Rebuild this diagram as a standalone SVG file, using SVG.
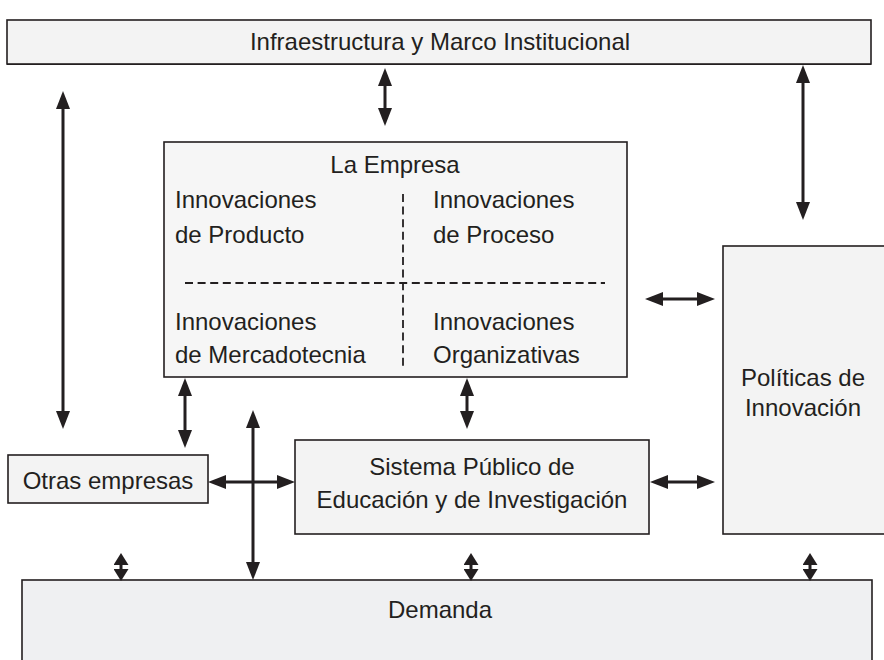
<svg xmlns="http://www.w3.org/2000/svg" width="884" height="660" viewBox="0 0 884 660">
<style>
.box{fill:#f3f3f3;stroke:#231f20;stroke-width:1.6}
.dem{fill:#eff0f2;stroke:#231f20;stroke-width:1.6}
.t{font-family:"Liberation Sans",Arial,sans-serif;font-size:24px;fill:#231f20}
.c{text-anchor:middle}
.ar{stroke:#231f20;stroke-width:3;fill:none;marker-start:url(#ah);marker-end:url(#ah)}
.sar{stroke:#231f20;stroke-width:3;fill:none;marker-start:url(#ahs);marker-end:url(#ahs)}
.dash{stroke:#231f20;stroke-width:1.8;fill:none;stroke-dasharray:8 4.6}
</style>
<defs>
<marker id="ah" viewBox="0 0 18 14" refX="10" refY="7" markerWidth="18" markerHeight="14" markerUnits="userSpaceOnUse" orient="auto-start-reverse">
<path d="M0,0 L18,7 L0,14 z" fill="#231f20"/>
</marker>
<marker id="ahs" viewBox="0 0 12 15" refX="8" refY="7.5" markerWidth="12" markerHeight="15" markerUnits="userSpaceOnUse" orient="auto-start-reverse">
<path d="M0,0 L12,7.5 L0,15 z" fill="#231f20"/>
</marker>
</defs>
<rect width="884" height="660" fill="#ffffff"/>
<g id="infraestructura">
<rect class="box" x="7" y="20" width="864" height="44"/>
<line x1="7" y1="64.5" x2="871" y2="64.5" stroke="#231f20" stroke-width="1"/>
<text class="t c" x="440" y="50">Infraestructura y Marco Institucional</text>
</g>
<g id="empresa">
<rect class="box" x="164" y="142" width="463" height="235" style="fill:#f6f6f6"/>
<text class="t c" x="395" y="173">La Empresa</text>
<text class="t" x="175" y="208">Innovaciones</text>
<text class="t" x="175" y="243">de Producto</text>
<text class="t" x="433" y="208">Innovaciones</text>
<text class="t" x="433" y="243">de Proceso</text>
<text class="t" x="175" y="330">Innovaciones</text>
<text class="t" x="175" y="363">de Mercadotecnia</text>
<text class="t" x="433" y="330">Innovaciones</text>
<text class="t" x="433" y="363">Organizativas</text>
<line class="dash" x1="185" y1="283" x2="605" y2="283"/>
<line class="dash" x1="403" y1="194" x2="403" y2="370"/>
</g>
<g id="politicas">
<rect class="box" x="723" y="246" width="170" height="288"/>
<text class="t c" x="803" y="386">Políticas de</text>
<text class="t c" x="803" y="416">Innovación</text>
</g>
<g id="sistema">
<rect class="box" x="295" y="440" width="354" height="94"/>
<text class="t c" x="472" y="475">Sistema Público de</text>
<text class="t c" x="472" y="508">Educación y de Investigación</text>
</g>
<g id="otras">
<rect class="box" x="8" y="455" width="200" height="48"/>
<text class="t c" x="108" y="489">Otras empresas</text>
</g>
<g id="demanda">
<rect class="dem" x="22" y="580" width="850" height="90"/>
<text class="t c" x="440" y="618">Demanda</text>
</g>
<g id="connectors">
<line class="ar" x1="63" y1="99" x2="63" y2="421"/>
<line class="ar" x1="385" y1="76" x2="385" y2="118"/>
<line class="ar" x1="803" y1="73" x2="803" y2="212"/>
<line class="ar" x1="653" y1="299" x2="707" y2="299"/>
<line class="ar" x1="658" y1="482" x2="707" y2="482"/>
<line class="ar" x1="185" y1="386" x2="185" y2="440"/>
<line class="ar" x1="467" y1="386" x2="467" y2="421"/>
<line class="ar" x1="216" y1="482" x2="287" y2="482"/>
<line class="sar" x1="121" y1="557" x2="121" y2="577"/>
<line class="sar" x1="471" y1="557" x2="471" y2="577"/>
<line class="sar" x1="810" y1="557" x2="810" y2="577"/>
<line stroke="#231f20" stroke-width="3" x1="253" y1="418" x2="253" y2="572" marker-start="url(#ah)" marker-end="url(#ah)"/>
</g>
</svg>
